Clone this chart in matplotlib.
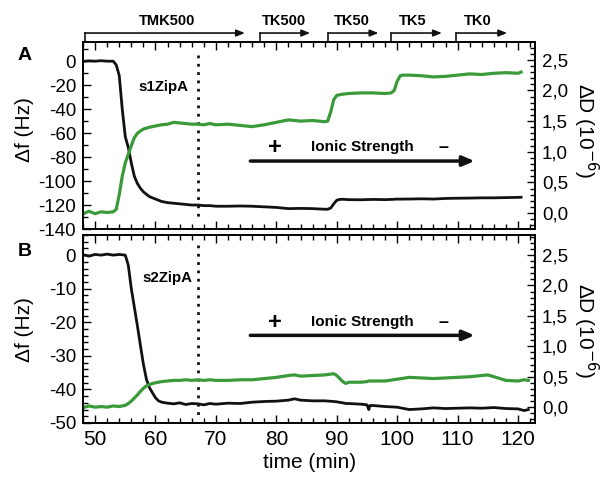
import matplotlib
matplotlib.use("Agg")
import matplotlib.pyplot as plt
from matplotlib.ticker import MultipleLocator, FuncFormatter

plt.rcParams['font.family'] = ['Liberation Sans', 'DejaVu Sans']
plt.rcParams['axes.unicode_minus'] = False

# --- datos ---
# painel A: frequencia (Hz) e dissipacao (10^-6)
t_a = [48.3, 49, 50, 51, 52, 53, 53.5, 54, 54.5, 55, 55.5, 56, 56.5, 57, 57.5, 58,
       59, 60, 61, 62, 63, 64, 65, 66, 67, 68, 69, 70, 72, 74, 76, 78, 80, 82, 84,
       86, 88, 88.5, 89, 89.5, 90, 90.5, 91, 92, 94, 96, 98, 99, 99.5, 100, 100.5,
       101, 102, 104, 106, 108, 110, 112, 114, 116, 118, 120, 120.5]
df_a = [0, 0.3, 0, 0.4, 0, 0, -3, -12, -40, -63, -72, -85, -96, -102, -106, -109,
        -113, -115, -117, -118, -118.5, -119, -119.5, -120, -120, -120.5, -120.5, -121,
        -121, -120.8, -121, -121.5, -122, -123, -122.8, -123, -123.5, -123.5, -122.5,
        -119, -116, -115.3, -115.2, -115.5, -115.6, -115.3, -115.5, -115.3, -115.2,
        -115, -115.1, -115, -115, -114.8, -115, -114.5, -114.3, -114.2, -114, -114,
        -113.8, -113.6, -113.5]
dd_a = [0.0, 0.03, -0.01, 0.02, 0.01, 0.02, 0.06, 0.3, 0.6, 0.82, 0.96, 1.1, 1.23,
        1.3, 1.34, 1.37, 1.4, 1.42, 1.44, 1.45, 1.48, 1.47, 1.46, 1.45, 1.45, 1.44,
        1.46, 1.44, 1.45, 1.43, 1.41, 1.44, 1.48, 1.52, 1.50, 1.51, 1.49, 1.5, 1.65,
        1.85, 1.92, 1.93, 1.94, 1.95, 1.96, 1.96, 1.95, 1.96, 2.0, 2.15, 2.24, 2.25,
        2.25, 2.24, 2.22, 2.23, 2.25, 2.27, 2.26, 2.28, 2.29, 2.28, 2.30]

# painel B
t_b = [48.3, 49, 50, 51, 52, 53, 54, 55, 55.5, 56, 56.5, 57, 57.5, 58, 58.5, 59,
       59.5, 60, 60.5, 61, 62, 63, 64, 65, 66, 67, 68, 69, 70, 72, 74, 76, 78, 80,
       82, 83, 84, 86, 88, 89.5, 90, 91, 91.5, 92, 94, 95, 95.3, 95.5, 96, 98, 100,
       102, 104, 106, 108, 110, 112, 114, 115, 116, 118, 120, 121, 121.7]
df_b = [0, -0.3, 0.2, 0, 0.3, 0, 0.2, 0, -3, -10, -15.5, -21, -26.8, -32.5, -37,
        -39.5, -41, -42.5, -43.4, -43.8, -44.1, -44.3, -44, -44.5, -44.2, -44.3, -44.6,
        -44.2, -44.4, -44.1, -44.2, -43.8, -43.6, -43.5, -43.2, -42.8, -43.2, -43.4,
        -43.4, -43.6, -43.7, -44.0, -44.2, -44.2, -44.4, -44.6, -46, -44.8, -44.8,
        -45.1, -45.3, -46, -45.8, -45.5, -45.7, -45.6, -45.5, -45.6, -45.5, -45.4,
        -45.7, -45.8, -46.3, -46]
dd_b = [0.0, 0.02, 0.0, 0.01, 0.0, 0.02, 0.01, 0.03, 0.06, 0.1, 0.15, 0.2, 0.26,
        0.31, 0.35, 0.37, 0.39, 0.4, 0.41, 0.42, 0.43, 0.44, 0.44, 0.45, 0.44, 0.45,
        0.44, 0.45, 0.44, 0.44, 0.45, 0.45, 0.47, 0.49, 0.52, 0.53, 0.51, 0.52, 0.53,
        0.55, 0.52, 0.42, 0.39, 0.41, 0.41, 0.42, 0.43, 0.43, 0.43, 0.43, 0.46, 0.49,
        0.48, 0.47, 0.48, 0.49, 0.5, 0.52, 0.53, 0.5, 0.44, 0.43, 0.45, 0.44]

# tampoes (inicio, fim da seta, posicao do texto)
tampoes = ['TMK500', 'TK500', 'TK50', 'TK5', 'TK0']
tamp_ini = [48.3, 77.3, 88.6, 99.0, 109.8]
tamp_fim = [74.8, 85.6, 96.9, 107.4, 118.2]
tamp_txt = [61.9, 81.2, 92.5, 102.5, 113.3]

verde = '#3a9a3a'
preto = '#111111'

fig = plt.figure(figsize=(6, 4.78), dpi=100)
axA = fig.add_axes([0.1383, 0.5209, 0.7533, 0.3912])
axB = fig.add_axes([0.1383, 0.1151, 0.7533, 0.3933])
virgula = FuncFormatter(lambda v, p: f'{v:.1f}'.replace('.', ','))


def configura(ax, axd, ylim, ylimd, maj, mino, base=True):
    ax.set_xlim(48, 122.8)
    ax.set_ylim(*ylim)
    axd.set_ylim(*ylimd)
    ax.xaxis.set_major_locator(MultipleLocator(10))
    ax.xaxis.set_minor_locator(MultipleLocator(2))
    ax.yaxis.set_major_locator(MultipleLocator(maj))
    ax.yaxis.set_minor_locator(MultipleLocator(mino))
    axd.yaxis.set_major_locator(MultipleLocator(0.5))
    axd.yaxis.set_minor_locator(MultipleLocator(0.1))
    axd.yaxis.set_major_formatter(virgula)
    ax.tick_params(which='both', direction='in', top=True, right=False,
                   labelbottom=base, width=1)
    ax.tick_params(which='major', length=6)
    ax.tick_params(which='minor', length=3.5)
    ax.tick_params(axis='y', labelsize=13.5, pad=5)
    ax.tick_params(axis='x', labelsize=15, pad=5)
    axd.tick_params(which='both', direction='in', width=1, labelsize=13.5, pad=5)
    axd.tick_params(which='major', length=6)
    axd.tick_params(which='minor', length=3.5)
    for a in (ax, axd):
        for s in a.spines.values():
            s.set_linewidth(1.2)


axA2 = axA.twinx()
axB2 = axB.twinx()
configura(axA, axA2, (-140, 16), (-0.26, 2.79), 20, 10, base=False)
configura(axB, axB2, (-50, 6), (-0.26, 2.83), 10, 2)

axA.plot(t_a, df_a, color=preto, lw=2, zorder=3)
axA2.plot(t_a, dd_a, color=verde, lw=2.3)
axB.plot(t_b, df_b, color=preto, lw=2, zorder=3)
axB2.plot(t_b, dd_b, color=verde, lw=2.3)

# linha pontilhada (fim da adsorcao)
axA.plot([67, 67], [5, -133], color=preto, ls=(0, (1, 2)), lw=2)
axB.plot([67, 67], [3, -47.6], color=preto, ls=(0, (1, 2)), lw=2)

axA.text(61.3, -21.6, 's1ZipA', fontsize=10.8, fontweight='bold', ha='center', va='center')
axB.text(62, -6.9, 's2ZipA', fontsize=10.8, fontweight='bold', ha='center', va='center')

# seta da forca ionica
for ax, yseta, ytxt in ((axA, -83.3, -72), (axB, -23.9, -20.0)):
    ax.annotate('', xy=(112.8, yseta), xytext=(75.7, yseta),
                arrowprops=dict(arrowstyle='-|>,head_length=0.7,head_width=0.3',
                                color=preto, lw=2.5, shrinkA=0, shrinkB=0))
    ax.text(79.8, ytxt, '+', fontsize=17, fontweight='bold', ha='center', va='center')
    ax.text(94.2, ytxt, 'Ionic Strength', fontsize=11, fontweight='bold',
            ha='center', va='center')
    ax.text(107.6, ytxt, '–', fontsize=13, fontweight='bold', ha='center', va='center')

# colchetes dos tampoes no topo
trA = axA.get_xaxis_transform()
for nome, x0, x1, xt in zip(tampoes, tamp_ini, tamp_fim, tamp_txt):
    axA.plot([x0, x0], [1.0, 1.048], color=preto, lw=1.2, transform=trA, clip_on=False)
    axA.annotate('', xy=(x1, 1.048), xytext=(x0, 1.048), xycoords=trA, textcoords=trA,
                 arrowprops=dict(arrowstyle='-|>,head_length=0.5,head_width=0.2',
                                 color=preto, lw=1.2, shrinkA=0, shrinkB=0))
    axA.text(xt, 1.11, nome, fontsize=10.5, fontweight='bold', ha='center',
             va='center', transform=trA)

fig.text(25 / 600, 1 - 55 / 478, 'A', fontsize=14, fontweight='bold', ha='center', va='center')
fig.text(25 / 600, 1 - 252 / 478, 'B', fontsize=14, fontweight='bold', ha='center', va='center')

for ax, yc in ((axA, 130), (axB, 330)):
    fig.text(25 / 600, 1 - yc / 478, 'Δf (Hz)', fontsize=15, rotation=90,
             ha='center', va='center')
    fig.text(586 / 600, 1 - yc / 478, 'ΔD (10$^{-6}$)', fontsize=15, rotation=-90,
             ha='center', va='center')

fig.text(310 / 600, 1 - 462 / 478, 'time (min)', fontsize=15, ha='center', va='center')

fig.savefig('out.png', dpi=100)
